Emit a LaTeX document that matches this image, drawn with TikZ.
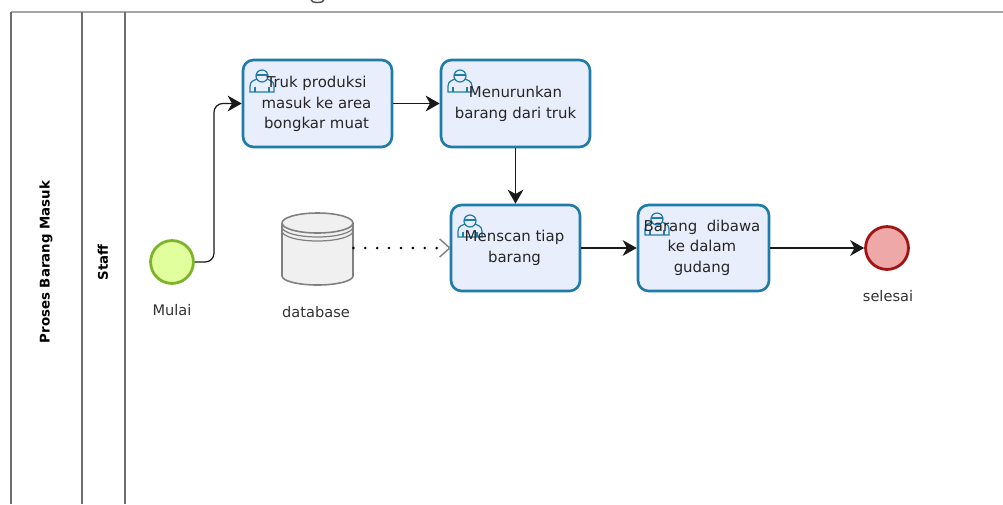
\documentclass[tikz,border=0pt]{standalone}
\usepackage{fontspec}
\setmainfont{DejaVu Sans}
\usetikzlibrary{calc}
\usetikzlibrary{arrows.meta}
\definecolor{taskline}{HTML}{1F7BA8}
\definecolor{taskfill}{HTML}{E9EEFC}
\definecolor{poolline}{HTML}{6E6E6E}
\definecolor{startline}{HTML}{7DB52A}
\definecolor{startfill}{HTML}{E2FF9E}
\definecolor{endline}{HTML}{A01414}
\definecolor{endfill}{HTML}{EFA8A8}
\tikzset{
  task/.style={draw=taskline,fill=taskfill,line width=1.5pt,rounded corners=6pt,inner sep=0pt},
  tasktext/.style={align=center,inner sep=0pt,font=\fontsize{8.5}{11.6}\selectfont,text=black!85},
  event/.style={draw,circle,line width=1.6pt,inner sep=0pt,minimum size=24.4pt},
  label/.style={font=\fontsize{8.3}{10}\selectfont,text=black!80},
  lane/.style={font=\fontsize{7.6}{10}\bfseries\selectfont,rotate=90},
  flow/.style={-{Stealth[length=8pt,width=9pt,inset=2.5pt]},line width=.8pt,rounded corners=5pt,black!90},
}
\newcommand{\usericon}[1]{
  \begin{scope}[shift={(#1)},taskline,line width=.7pt]
    \draw (-12,11) -- (-12,5) .. controls (-12,0) and (-7,-1) .. (-5,-2) -- (5,-2) .. controls (7,-1) and (12,0) .. (12,5) -- (12,11) -- cycle;
    \draw[fill=taskfill] (0,-5) circle (6);
    \draw (-6,-6) -- (6,-6);
    \draw (-7,11) -- (-7,6) (7,11) -- (7,6);
  \end{scope}
}
\begin{document}
\begin{tikzpicture}[x=.02cm,y=-.02cm]
  \useasboundingbox (0,0) rectangle (1003,504);
  \fill[white] (0,0) rectangle (1003,504);
  % pool
  \draw[black!35,line width=.9pt] (11,12) -- (1003,12);
  \draw[poolline,line width=.8pt] (11,504) -- (11,12);
  \draw[poolline,line width=.8pt] (82,12) -- (82,504);
  \draw[poolline,line width=.8pt] (125,12) -- (125,504);
  \node[lane] (pool) at (46,262) {Proses Barang Masuk};
  \node[lane] (staff) at (103,262.5) {Staff};
  % cut off title
  \draw[black!70,line width=.8pt] (311,0) arc[start angle=180,end angle=0,x radius=6.5,y radius=2.5];

  \node[event,draw=startline,fill=startfill] (start) at (172,262) {};
  \node[label] (startl) at (172,310) {Mulai};
  \node[task,minimum width=149*.02cm,minimum height=87*.02cm] (truk) at (317.5,103.5) {};
  \node[task,minimum width=149*.02cm,minimum height=87*.02cm] (turun) at (515.5,103.5) {};
  \node[task,minimum width=129*.02cm,minimum height=86*.02cm] (scan) at (515.5,248) {};
  \node[task,minimum width=131*.02cm,minimum height=86*.02cm] (gudang) at (703.5,248) {};
  \node[event,draw=endline,fill=endfill] (end) at (887,248) {};
  \node[label] (endl) at (888,296) {selesai};

  % database
  \node[minimum width=71*.02cm,minimum height=71*.02cm,inner sep=0pt] (db) at (317.5,249.5) {};
  \draw[gray,fill=black!6,line width=.9pt] (282,223) -- (282,276) arc[start angle=180,end angle=0,x radius=35.5,y radius=9] -- (353,223) arc[start angle=0,end angle=-180,x radius=35.5,y radius=10];
  \draw[gray,line width=.9pt] (282,223) arc[start angle=180,end angle=0,x radius=35.5,y radius=10];
  \draw[gray,line width=.7pt] (282,227) arc[start angle=180,end angle=0,x radius=35.5,y radius=10];
  \draw[gray,line width=.7pt] (282,231) arc[start angle=180,end angle=0,x radius=35.5,y radius=10];
  \node[label] (dbl) at (316,312) {database};

  \usericon{262,81}
  \usericon{460,81}
  \usericon{470,226}
  \usericon{657,224}
  \node[tasktext] (trukt) at (316.5,104) {Truk produksi\\masuk ke area\\bongkar muat};
  \node[tasktext] (turunt) at (515.5,104) {Menurunkan\\barang dari truk};
  \node[tasktext] (scant) at (514.5,248) {Menscan tiap\\barang};
  \node[tasktext] (gudangt) at (702,247.5) {Barang\ \ dibawa\\ke dalam\\gudang};

  \draw[flow,line width=.7pt] (start.east) -- (214,262) -- (214,103.5) -- (truk.west);
  \path[flow] (truk) edge (turun);
  \path[flow] (turun) edge (scan);
  \path[flow] (scan) edge (gudang);
  \path[flow] (gudang) edge (end);
  \draw[line width=1.6pt,line cap=round,dash pattern=on 0pt off 11.9*.02cm] (db.east |- scan.west) -- ($(scan.west)+(-10,0)$);
  \draw[gray,line width=.8pt] ($(scan.west)+(-10,-9)$) -- (scan.west) -- ($(scan.west)+(-10,9)$);
\end{tikzpicture}
\end{document}
